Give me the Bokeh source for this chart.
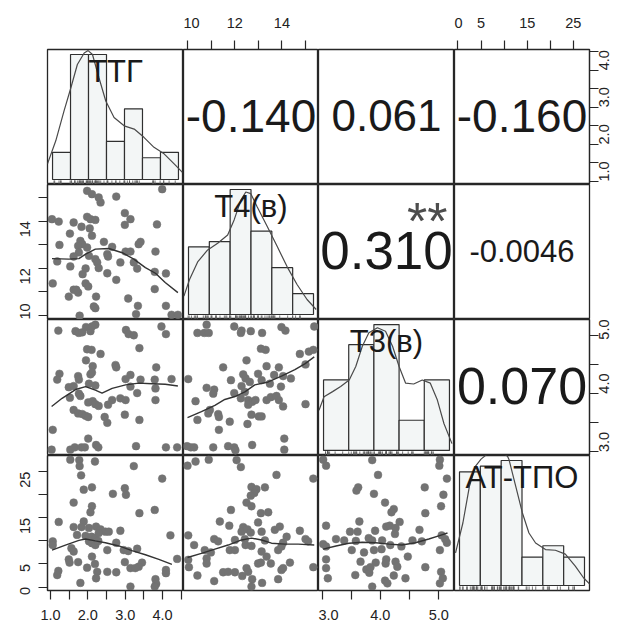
import math
from bokeh.plotting import figure
from bokeh.layouts import gridplot
from bokeh.models import Range1d, LinearAxis, FixedTicker, PrintfTickFormatter
from bokeh.core.properties import value
from bokeh.embed import file_html
from bokeh.resources import INLINE

FONT = "Liberation Sans"

# ---------------- data ----------------
VAR_NAMES = ["ТТГ", "Т4(в)", "Т3(в)", "АТ-ТПО"]
LIMITS = [(0.92, 4.56), (9.83, 15.55), (2.94, 5.27), (-0.75, 28.5)]
MAJOR_TICKS = [[1.0, 2.0, 3.0, 4.0], [10, 12, 14], [3.0, 4.0, 5.0], [0, 5, 15, 25]]
MINOR_TICKS = [[1.5, 2.5, 3.5, 4.5], [11, 13, 15], [3.5, 4.5], [10, 20]]
TICK_FORMAT = ["%.1f", "%d", "%.1f", "%d"]

HIST_BREAKS = [
    [1.0, 1.5, 2.0, 2.5, 3.0, 3.5, 4.0, 4.5],
    [10, 11, 12, 13, 14, 15, 16],
    [3.0, 3.5, 4.0, 4.5, 5.0, 5.5],
    [0, 5, 10, 15, 20, 25, 30],
]
HIST_COUNTS = [
    [5, 23, 23, 7, 13, 4, 5],
    [13, 14, 24, 16, 9, 4],
    [14, 21, 25, 6, 14],
    [20, 21, 22, 5, 7, 5],
]

DENS_TTG_X = [0.86, 1.09, 1.32, 1.51, 1.69, 1.88, 1.99, 2.11, 2.29, 2.48, 2.71, 2.99, 3.27, 3.54, 3.82, 4.10, 4.38, 4.61]
DENS_TTG_Y = [0.072, 0.178, 0.316, 0.422, 0.529, 0.582, 0.593, 0.575, 0.468, 0.361, 0.285, 0.247, 0.232, 0.194, 0.148, 0.118, 0.072, 0.033]
DENS_T4_X = [9.78, 10.05, 10.45, 10.92, 11.40, 11.88, 12.19, 12.51, 12.75, 12.99, 13.30, 13.78, 14.26, 14.73, 15.21, 15.69, 16.13]
DENS_T4_Y = [0.044, 0.084, 0.127, 0.155, 0.171, 0.191, 0.227, 0.274, 0.294, 0.290, 0.258, 0.211, 0.163, 0.115, 0.072, 0.036, 0.012]
DENS_T3_X = [2.91, 3.01, 3.18, 3.34, 3.51, 3.64, 3.77, 3.90, 4.07, 4.23, 4.37, 4.50, 4.63, 4.79, 4.96, 5.12, 5.26, 5.39, 5.55]
DENS_T3_Y = [0.200, 0.267, 0.292, 0.317, 0.350, 0.417, 0.517, 0.584, 0.609, 0.592, 0.517, 0.417, 0.334, 0.330, 0.350, 0.334, 0.250, 0.134, 0.034]
DENS_AT_X = [-0.95, 0.81, 2.38, 3.81, 5.17, 6.36, 8.0, 9.93, 11.52, 11.90, 13.50, 15.10, 16.67, 18.26, 20.64, 23.02, 25.40, 27.79, 29.76, 31.36]
DENS_AT_Y = [0.0144, 0.0275, 0.0436, 0.0524, 0.0556, 0.0574, 0.0587, 0.0587, 0.0569, 0.0553, 0.0436, 0.0319, 0.0231, 0.0187, 0.0158, 0.0155, 0.0138, 0.0085, 0.0034, 0.0004]

# scatter panels: row 2 col 1  (x = ТТГ, y = Т4)
R2C1_X = [1.98, 2.11, 2.29, 2.34, 2.76, 3.99, 1.04, 1.22, 1.62, 1.83, 1.98, 2.07, 2.20, 2.05, 1.52, 2.11, 2.99, 3.14, 2.99, 3.85,
          1.80, 1.85, 1.74, 1.24, 2.43, 2.65, 3.41, 3.36, 1.98, 1.76, 1.62, 2.03, 2.20, 2.52, 2.54, 3.01, 3.14, 3.81, 1.18, 1.53,
          2.25, 2.29, 2.87, 3.23, 3.32, 1.94, 1.86, 2.52, 3.79, 4.09, 1.06, 1.94, 2.01, 2.76, 1.62, 1.74, 1.49, 2.22, 3.79, 3.08,
          2.20, 2.16, 1.78, 3.34, 3.29, 4.09, 4.24, 4.41, 1.69]
R2C1_Y = [15.28, 15.14, 15.00, 14.79, 15.04, 15.35, 14.08, 13.98, 13.94, 13.76, 14.18, 14.08, 14.05, 13.69, 13.47, 13.38, 14.34, 14.08, 13.84, 13.86,
          13.16, 13.02, 12.95, 12.99, 13.12, 12.91, 13.12, 13.02, 12.88, 12.67, 12.50, 12.53, 12.39, 12.60, 12.50, 12.71, 12.71, 12.71, 12.29, 12.08,
          12.25, 12.01, 12.25, 12.25, 11.99, 11.99, 11.75, 11.79, 11.85, 11.78, 11.36, 11.36, 11.23, 11.51, 11.09, 10.97, 10.80, 10.80, 11.12, 10.72,
          10.31, 10.38, 9.99, 10.41, 10.06, 10.41, 10.03, 10.03, 11.09]
R2C1_LX = [1.04, 1.49, 1.76, 1.94, 2.20, 2.56, 2.92, 3.23, 3.54, 3.81, 4.07, 4.41]
R2C1_LY = [12.41, 12.39, 12.41, 12.60, 12.81, 12.84, 12.66, 12.39, 12.03, 11.79, 11.40, 10.97]

# row 3 col 1 (x = ТТГ, y = Т3)
R3C1_X = [1.21, 1.67, 1.76, 1.85, 1.95, 2.07, 2.20, 2.11, 3.02, 3.09, 3.23, 3.97, 4.09, 1.98, 2.10, 2.34, 3.38, 1.95, 2.13, 2.74,
          2.76, 3.83, 1.24, 1.18, 1.74, 1.76, 2.07, 2.11, 2.03, 2.20, 3.14, 3.01, 3.41, 3.79, 4.24, 1.49, 1.62, 1.76, 1.80, 1.52,
          3.14, 3.81, 3.32, 2.01, 2.13, 2.20, 2.29, 2.65, 2.54, 2.87, 3.01, 3.81, 1.62, 1.74, 1.85, 1.94, 2.01, 2.45, 2.52, 2.99,
          3.38, 1.06, 2.01, 1.03, 1.53, 1.65, 1.83, 1.92, 2.22, 2.28, 3.29, 4.09, 4.39]
R3C1_Y = [5.08, 5.07, 5.04, 5.05, 5.14, 5.07, 5.18, 5.15, 5.09, 5.02, 5.00, 5.15, 5.02, 4.76, 4.75, 4.68, 4.78, 4.57, 4.47, 4.49,
          4.45, 4.45, 4.34, 4.24, 4.30, 4.24, 4.33, 4.36, 4.17, 4.14, 4.32, 4.25, 4.24, 4.24, 4.25, 4.11, 4.13, 4.00, 3.96, 3.93,
          4.12, 4.09, 4.01, 3.85, 3.87, 3.82, 3.79, 3.89, 3.81, 3.92, 3.89, 3.89, 3.72, 3.66, 3.65, 3.62, 3.60, 3.60, 3.50, 3.64,
          3.55, 3.38, 3.23, 3.04, 3.04, 3.08, 3.08, 3.08, 3.12, 3.08, 3.10, 3.08, 3.08]
R3C1_LX = [1.03, 1.31, 1.67, 1.94, 2.20, 2.38, 2.65, 3.01, 3.36, 3.72, 4.07, 4.41]
R3C1_LY = [3.78, 3.92, 4.07, 4.12, 4.06, 4.01, 4.09, 4.15, 4.18, 4.17, 4.16, 4.13]

# row 3 col 2 (x = Т4, y = Т3)
R3C2_X = [10.81, 10.42, 10.71, 10.90, 11.98, 12.29, 12.26, 12.68, 13.16, 13.98, 14.15, 15.37, 13.11, 13.31, 14.76, 15.14, 15.33, 12.50, 11.51, 13.35,
          13.87, 15.00, 10.03, 11.84, 12.36, 12.46, 12.99, 12.64, 12.29, 13.14, 13.49, 13.67, 14.05, 14.38, 10.81, 11.13, 11.09, 11.98, 12.43, 13.96,
          10.34, 12.26, 12.57, 12.74, 12.88, 13.35, 13.53, 13.77, 13.87, 12.57, 14.05, 15.00, 10.95, 10.88, 11.30, 11.33, 12.71, 13.02, 13.14, 10.42,
          11.79, 12.54, 11.33, 14.10, 9.98, 10.14, 10.28, 11.09, 11.72, 11.98, 12.03, 12.74, 14.10]
R3C2_Y = [5.18, 5.04, 5.04, 5.04, 5.15, 5.08, 5.04, 5.07, 5.04, 5.14, 5.08, 5.15, 4.77, 4.75, 4.68, 4.72, 4.75, 4.57, 4.45, 4.47,
          4.45, 4.50, 4.25, 4.23, 4.33, 4.26, 4.34, 4.20, 4.13, 4.23, 4.17, 4.32, 4.30, 4.26, 4.10, 4.07, 4.00, 4.01, 4.03, 4.12,
          3.87, 3.92, 3.89, 3.86, 3.89, 3.89, 3.94, 3.96, 3.89, 3.81, 3.78, 3.82, 3.72, 3.66, 3.65, 3.60, 3.64, 3.61, 3.61, 3.55,
          3.52, 3.48, 3.38, 3.23, 3.10, 3.08, 3.08, 3.08, 3.10, 3.08, 3.03, 3.12, 3.04]
R3C2_LX = [10.00, 10.59, 11.16, 11.58, 12.01, 12.43, 12.85, 13.42, 13.98, 14.55, 14.97, 15.37]
R3C2_LY = [3.59, 3.69, 3.80, 3.90, 3.95, 4.03, 4.15, 4.20, 4.30, 4.41, 4.51, 4.63]

# row 4 col 1 (x = ТТГ, y = АТ-ТПО)
R4C1_X = [1.53, 1.77, 1.78, 2.19, 1.82, 3.23, 3.99, 1.89, 2.11, 2.67, 2.99, 3.02, 1.62, 2.11, 2.07, 3.38, 3.79, 1.22, 1.62, 1.89,
          1.83, 2.03, 2.22, 2.34, 2.47, 2.56, 2.87, 1.71, 1.94, 2.10, 2.20, 1.06, 1.06, 2.03, 2.11, 2.20, 2.28, 2.76, 4.21, 1.56,
          1.62, 2.52, 2.96, 3.08, 3.32, 1.49, 1.51, 1.74, 2.11, 2.19, 1.98, 2.25, 2.99, 3.14, 3.45, 3.36, 3.27, 2.52, 2.76, 4.09,
          4.09, 4.39, 1.21, 1.18, 1.80, 2.22, 3.14, 3.81, 3.83, 3.79, 2.29]
R4C1_Y = [27.6, 27.5, 26.2, 27.2, 24.2, 26.2, 23.5, 21.1, 21.6, 20.2, 21.4, 20.0, 18.3, 17.5, 16.2, 16.0, 16.7, 14.1, 13.0, 14.2,
          13.0, 12.8, 13.1, 12.5, 12.0, 12.0, 12.2, 11.3, 11.1, 10.9, 10.6, 9.9, 9.1, 9.9, 9.5, 9.1, 10.0, 9.6, 11.2, 8.4,
          7.7, 8.0, 8.0, 7.8, 8.3, 6.0, 5.3, 5.4, 6.6, 5.0, 4.2, 3.3, 5.4, 4.1, 5.3, 4.4, 4.1, 3.3, 3.2, 3.7,
          3.0, 6.1, 3.5, 2.6, 0.9, 1.9, 0.1, 1.7, 0.7, 0.1, 11.7]
R4C1_LX = [1.04, 1.40, 1.76, 1.94, 2.20, 2.47, 2.83, 3.18, 3.54, 3.90, 4.25]
R4C1_LY = [8.0, 9.1, 10.1, 10.4, 10.0, 9.6, 8.9, 7.9, 7.0, 6.0, 4.9]

# row 4 col 2 (x = Т4, y = АТ-ТПО)
R4C2_X = [10.00, 10.34, 10.90, 12.08, 12.26, 13.77, 15.33, 12.71, 12.92, 13.28, 12.83, 12.68, 12.50, 12.71, 11.84, 13.11, 13.42, 11.37, 11.77, 12.99,
          12.36, 12.29, 12.54, 12.68, 13.14, 13.70, 13.91, 14.76, 10.03, 11.13, 11.30, 10.28, 12.01, 12.43, 12.46, 13.28, 14.20, 14.05, 15.00, 15.11,
          10.73, 10.99, 11.79, 12.01, 12.71, 13.84, 13.98, 10.03, 10.81, 10.81, 13.35, 12.99, 13.11, 13.53, 14.34, 10.06, 10.42, 11.51, 11.72, 12.01,
          12.50, 12.57, 12.32, 12.74, 13.98, 14.05, 13.84, 15.33, 11.13, 12.71, 13.16, 13.14]
R4C2_Y = [26.3, 27.2, 27.6, 27.5, 26.0, 24.3, 23.5, 21.7, 21.2, 21.6, 20.4, 19.8, 18.3, 17.5, 16.7, 16.0, 16.2, 14.2, 13.3, 14.0,
          13.0, 12.0, 12.5, 11.8, 12.0, 12.4, 13.1, 12.2, 11.2, 10.4, 9.9, 9.1, 10.2, 10.4, 9.1, 10.1, 10.9, 9.6, 10.4, 9.9,
          8.0, 7.5, 8.0, 8.0, 8.9, 8.0, 8.8, 5.9, 6.2, 5.1, 6.6, 5.1, 5.3, 5.1, 5.3, 4.3, 2.5, 3.2, 3.3, 3.2,
          4.1, 3.3, 2.4, 1.7, 3.7, 4.1, 1.7, 4.3, 1.3, 0.1, 0.9, 7.7]
R4C2_LX = [10.00, 10.59, 11.16, 11.72, 12.29, 12.71, 13.14, 13.56, 14.12, 14.69, 15.37]
R4C2_LY = [6.4, 7.3, 8.2, 9.1, 10.2, 10.6, 10.2, 9.5, 9.3, 9.3, 9.1]

# row 4 col 3 (x = Т3, y = АТ-ТПО)
R4C3_X = [3.02, 3.07, 3.86, 3.96, 5.02, 5.01, 5.14, 3.62, 3.59, 3.89, 4.76, 5.08, 4.08, 4.23, 4.19, 5.04, 4.77, 3.07, 3.64, 4.33,
          4.10, 4.16, 4.26, 4.25, 3.48, 3.61, 3.91, 4.67, 5.05, 5.11, 5.14, 3.02, 3.07, 3.24, 3.38, 3.58, 3.80, 3.86, 4.03, 4.17,
          4.36, 4.55, 4.71, 3.51, 3.72, 3.89, 4.02, 5.02, 3.07, 3.66, 3.92, 4.10, 4.26, 4.29, 4.47, 3.07, 3.10, 3.57, 3.76, 3.81,
          3.83, 4.08, 4.12, 4.23, 4.43, 4.77, 5.04, 5.07, 5.02, 3.86, 4.09]
R4C3_Y = [27.6, 26.3, 27.5, 24.3, 27.6, 26.3, 23.5, 21.6, 20.9, 20.2, 21.6, 20.0, 18.3, 16.9, 16.2, 17.5, 16.0, 13.3, 14.2, 14.1,
          13.1, 13.3, 12.8, 11.5, 12.0, 12.0, 12.2, 12.4, 11.2, 10.4, 9.6, 9.3, 8.8, 10.4, 10.1, 10.0, 10.6, 10.1, 10.1, 9.1,
          8.8, 10.1, 9.9, 8.0, 7.5, 8.0, 8.2, 8.0, 6.0, 5.5, 5.3, 6.0, 5.5, 4.4, 6.6, 4.1, 1.9, 2.6, 3.8, 3.1,
          4.3, 1.4, 0.8, 2.5, 1.9, 4.3, 3.3, 1.9, 0.8, 0.1, 5.1]
R4C3_LX = [3.02, 3.24, 3.46, 3.69, 3.92, 4.15, 4.37, 4.60, 4.83, 5.00, 5.15]
R4C3_LY = [8.2, 8.9, 9.5, 9.7, 9.6, 9.3, 9.1, 9.6, 10.4, 11.1, 11.7]

# correlation panels (upper triangle)
CORR_ROW = [0, 0, 0, 1, 1, 2]
CORR_COL = [1, 2, 3, 2, 3, 3]
CORR_TEXT = ["-0.140", "0.061", "-0.160", "0.310", "-0.0046", "0.070"]
CORR_SIGNIF = ["", "", "", "**", "", ""]
CORR_FONT_PX = [46, 44, 46, 53, 31, 52]

# --------------- layout / style ---------------
COL_W = [136, 135, 136, 135]
ROW_H = [135, 135, 136, 135]
M_LEFT, M_RIGHT, M_TOP, M_BOTTOM = 47, 33, 49, 36
EDGE = "#262626"
POINT = "#737373"

DENS_X = [DENS_TTG_X, DENS_T4_X, DENS_T3_X, DENS_AT_X]
DENS_Y = [DENS_TTG_Y, DENS_T4_Y, DENS_T3_Y, DENS_AT_Y]
RUG_VALUES = [R2C1_X, R3C2_X, R3C1_Y, R4C1_Y]
SCATTER = {
    (1, 0): (R2C1_X, R2C1_Y, R2C1_LX, R2C1_LY),
    (2, 0): (R3C1_X, R3C1_Y, R3C1_LX, R3C1_LY),
    (2, 1): (R3C2_X, R3C2_Y, R3C2_LX, R3C2_LY),
    (3, 0): (R4C1_X, R4C1_Y, R4C1_LX, R4C1_LY),
    (3, 1): (R4C2_X, R4C2_Y, R4C2_LX, R4C2_LY),
    (3, 2): (R4C3_X, R4C3_Y, R4C3_LX, R4C3_LY),
}
STANDOFF = {"left": 13, "right": 6, "above": 13, "below": 10}


def base_fig(i, j, xr, yr):
    p = figure(frame_width=COL_W[j], frame_height=ROW_H[i], x_range=xr, y_range=yr,
               output_backend="svg", toolbar_location=None,
               x_axis_location=None, y_axis_location=None, min_border=0)
    p.min_border_left = M_LEFT if j == 0 else 0
    p.min_border_right = M_RIGHT if j == 3 else 0
    p.min_border_top = M_TOP if i == 0 else 0
    p.min_border_bottom = M_BOTTOM if i == 3 else 0
    p.outline_line_color = EDGE
    p.outline_line_width = 1.3
    p.background_fill_color = "white"
    p.border_fill_color = "white"
    p.grid.visible = False
    return p


def add_axis(p, side, var, range_name=None):
    kw = {}
    if range_name is not None:
        if side in ("left", "right"):
            kw["y_range_name"] = range_name
        else:
            kw["x_range_name"] = range_name
    ax = LinearAxis(ticker=FixedTicker(ticks=MAJOR_TICKS[var], minor_ticks=MINOR_TICKS[var]),
                    formatter=PrintfTickFormatter(format=TICK_FORMAT[var]), **kw)
    ax.major_tick_out = 9
    ax.major_tick_in = 0
    ax.minor_tick_out = 9
    ax.minor_tick_in = 0
    ax.axis_line_color = EDGE
    ax.axis_line_width = 1.2
    ax.major_tick_line_color = EDGE
    ax.major_tick_line_width = 1.2
    ax.minor_tick_line_color = EDGE
    ax.minor_tick_line_width = 1.2
    ax.major_label_text_font = FONT
    ax.major_label_text_font_size = "14.5px"
    ax.major_label_text_color = "#222222"
    ax.major_label_standoff = STANDOFF[side]
    if side in ("left", "right"):
        ax.major_label_orientation = math.pi / 2
    p.add_layout(ax, side)


grid = [[None] * 4 for _ in range(4)]

# diagonal: histograms
for k in range(4):
    br = HIST_BREAKS[k]
    cnt = HIST_COUNTS[k]
    n = sum(cnt)
    w = br[1] - br[0]
    dens = [c / (n * w) for c in cnt]
    span = br[-1] - br[0]
    maxd = max(dens)
    xr = Range1d(br[0] - 0.04 * span, br[-1] + 0.04 * span)
    yr = Range1d(-0.04 * maxd, 1.04 * maxd)
    p = base_fig(k, k, xr, yr)
    p.quad(left=br[:-1], right=br[1:], bottom=[0] * len(dens), top=dens,
           fill_color="#f3f6f6", line_color="#303030", line_width=1.2)
    p.line(DENS_X[k], DENS_Y[k], line_color="#4a4a4a", line_width=1.2)
    rv = RUG_VALUES[k]
    y0 = yr.start
    y1 = yr.start + 0.03 * (yr.end - yr.start)
    p.segment(x0=rv, x1=rv, y0=[y0] * len(rv), y1=[y1] * len(rv),
              line_color="#555555", line_width=0.8)
    p.text(x=[(xr.start + xr.end) / 2], y=[yr.start + 0.835 * (yr.end - yr.start)],
           text=[VAR_NAMES[k]], text_font=value(FONT), text_font_size="31px",
           text_align="center", text_baseline="middle", text_color="#1a1a1a")
    grid[k][k] = p

# lower triangle: scatter + smooth
for (i, j), (xs, ys, lx, ly) in SCATTER.items():
    m = min(len(xs), len(ys))
    p = base_fig(i, j, Range1d(*LIMITS[j]), Range1d(*LIMITS[i]))
    p.scatter(xs[:m], ys[:m], marker="circle", size=7.8,
              fill_color=POINT, line_color=POINT, line_width=0.5)
    p.line(lx, ly, line_color="#333333", line_width=1.4)
    grid[i][j] = p

# upper triangle: correlation texts
for r, c, txt, sig, fs in zip(CORR_ROW, CORR_COL, CORR_TEXT, CORR_SIGNIF, CORR_FONT_PX):
    p = base_fig(r, c, Range1d(0, 1), Range1d(0, 1))
    p.text(x=[0.5], y=[0.51], text=[txt], text_font=value(FONT),
           text_font_size=f"{fs}px", text_align="center", text_baseline="middle",
           text_color="#1a1a1a")
    if sig:
        p.text(x=[0.8], y=[0.73], text=[sig], text_font=value(FONT),
               text_font_size="52px", text_align="center", text_baseline="middle",
               text_color="#4d4d4d")
    grid[r][c] = p

# outer axes (R pairs style, alternating sides)
add_axis(grid[1][0], "left", 1)
add_axis(grid[3][0], "left", 3)
add_axis(grid[3][0], "below", 0)
add_axis(grid[3][2], "below", 2)

g = grid[0][1]
g.extra_x_ranges = {"v": Range1d(*LIMITS[1])}
add_axis(g, "above", 1, "v")

g = grid[0][3]
g.extra_x_ranges = {"v": Range1d(*LIMITS[3])}
g.extra_y_ranges = {"v": Range1d(*LIMITS[0])}
add_axis(g, "above", 3, "v")
add_axis(g, "right", 0, "v")

g = grid[2][3]
g.extra_y_ranges = {"v": Range1d(*LIMITS[2])}
add_axis(g, "right", 2, "v")

layout = gridplot(grid, toolbar_location=None)

open("out.html", "w").write(file_html(layout, INLINE))
